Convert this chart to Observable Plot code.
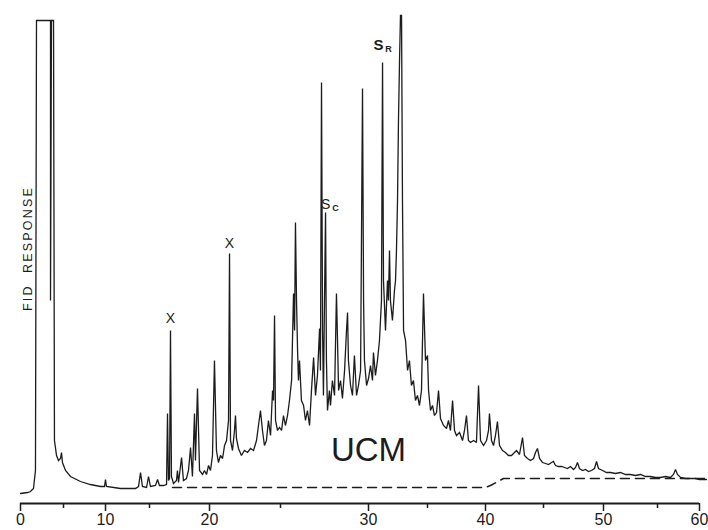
<!DOCTYPE html>
<html>
<head>
<meta charset="utf-8">
<script src="https://cdn.jsdelivr.net/npm/d3@7"></script>
<script src="https://cdn.jsdelivr.net/npm/@observablehq/plot@0.6"></script>
<style>
  html, body { margin: 0; padding: 0; background: #fff; }
  #chart { width: 708px; height: 530px; }
</style>
</head>
<body>
<div id="chart"></div>
<script>
// Retention time (min) of the recorded trace vertices
const traceTime = [
  0, 0.81, 1.16, 1.51, 1.74, 1.86, 3.49, 3.49, 3.60, 3.84, 3.95, 4.19, 4.42, 4.65, 4.77, 4.88,
  5.24, 5.83, 7.02, 8.21, 9.40, 9.88, 10.0, 10.11, 11.70, 13.41, 13.75, 13.98, 14.20, 14.66, 14.89, 15.08,
  15.5, 15.67, 15.83, 16.17, 16.42, 16.5, 16.58, 16.67, 16.75, 16.83, 17.0, 17.25, 17.33, 17.42, 17.67, 17.83,
  18.08, 18.25, 18.42, 18.58, 18.75, 18.83, 19.0, 19.17, 19.42, 19.58, 19.75, 19.92, 20.07, 20.21, 20.35, 20.49,
  20.63, 20.77, 20.92, 21.06, 21.20, 21.34, 21.41, 21.48, 21.62, 21.76, 21.83, 21.90, 22.04, 22.25, 22.46, 22.68,
  22.89, 23.10, 23.31, 23.45, 23.59, 23.73, 23.87, 24.01, 24.15, 24.30, 24.44, 24.51, 24.58, 24.65, 24.79, 24.93,
  25.06, 25.17, 25.28, 25.40, 25.51, 25.63, 25.74, 25.80, 25.85, 25.91, 25.97, 26.02, 26.08, 26.19, 26.31, 26.42,
  26.53, 26.65, 26.76, 26.88, 26.99, 27.10, 27.22, 27.27, 27.33, 27.39, 27.44, 27.50, 27.56, 27.61, 27.67, 27.78,
  27.84, 27.95, 28.07, 28.18, 28.24, 28.30, 28.41, 28.52, 28.64, 28.75, 28.81, 28.86, 28.98, 29.09, 29.20, 29.32,
  29.43, 29.55, 29.66, 29.72, 29.77, 29.89, 30.0, 30.17, 30.34, 30.42, 30.59, 30.76, 30.93, 31.10, 31.19, 31.27,
  31.44, 31.61, 31.69, 31.78, 31.86, 32.03, 32.20, 32.29, 32.37, 32.46, 32.54, 32.63, 32.71, 32.80, 32.88, 32.97,
  33.14, 33.31, 33.47, 33.64, 33.81, 33.98, 34.15, 34.32, 34.49, 34.66, 34.83, 35.0, 35.09, 35.26, 35.43, 35.60,
  35.78, 35.95, 36.12, 36.38, 36.64, 36.81, 36.98, 37.16, 37.33, 37.50, 37.76, 38.02, 38.19, 38.36, 38.53, 38.71,
  38.97, 39.22, 39.40, 39.57, 39.83, 40.09, 40.26, 40.34, 40.52, 40.69, 40.86, 41.03, 41.21, 41.47, 41.72, 41.98,
  42.24, 42.50, 42.67, 42.93, 43.19, 43.36, 43.62, 43.88, 44.14, 44.31, 44.48, 44.66, 44.91, 45.17, 45.42, 45.67,
  45.83, 46.0, 46.25, 46.5, 46.75, 47.0, 47.25, 47.5, 47.67, 47.83, 48.0, 48.25, 48.5, 48.75, 49.0, 49.25,
  49.42, 49.58, 49.92, 50.28, 50.65, 51.11, 51.57, 52.04, 52.5, 52.96, 53.43, 53.89, 54.35, 54.81, 55.36, 55.95,
  56.55, 56.90, 57.14, 57.38, 57.74, 58.33, 58.93, 59.52, 60.0, 60.83
];
// FID response (arbitrary units) at each vertex
const traceResponse = [
  10, 11, 12, 15, 33, 483, 483, 203, 483, 483, 63, 48, 43, 45, 51, 41,
  33, 27, 22, 19, 17, 17, 24, 17, 15, 15, 17, 31, 17, 16, 27, 17,
  18, 24, 18, 18, 19, 90, 23, 25, 173, 27, 20, 23, 33, 21, 46, 23,
  25, 33, 56, 27, 90, 43, 115, 33, 29, 33, 29, 38, 33, 48, 143, 53,
  41, 48, 45, 58, 63, 83, 250, 63, 53, 73, 88, 65, 55, 48, 53, 51,
  55, 53, 63, 78, 93, 73, 58, 63, 83, 68, 113, 103, 188, 83, 73, 76,
  73, 88, 78, 88, 103, 123, 210, 173, 281, 203, 153, 123, 143, 103, 98, 83,
  93, 78, 113, 146, 108, 128, 175, 133, 421, 173, 108, 203, 291, 143, 93, 113,
  98, 123, 108, 210, 163, 113, 123, 105, 133, 173, 191, 143, 118, 108, 148, 108,
  118, 133, 415, 203, 143, 118, 125, 138, 123, 151, 128, 143, 163, 203, 441, 223,
  173, 223, 203, 253, 203, 183, 213, 223, 253, 303, 383, 443, 488, 488, 303, 173,
  163, 133, 143, 118, 123, 103, 108, 98, 113, 210, 143, 148, 113, 93, 98, 88,
  91, 113, 85, 78, 75, 83, 73, 103, 73, 68, 71, 63, 73, 88, 63, 61,
  63, 61, 118, 63, 58, 63, 73, 90, 63, 58, 68, 82, 58, 53, 51, 48,
  48, 51, 53, 49, 66, 48, 45, 43, 45, 51, 55, 45, 41, 40, 39, 41,
  42, 38, 37, 37, 36, 35, 37, 34, 36, 41, 35, 33, 34, 32, 33, 35,
  42, 35, 33, 31, 31, 30, 31, 29, 29, 28, 29, 27, 27, 26, 26, 27,
  26, 29, 34, 29, 26, 25, 25, 25, 24, 24
];
// Dashed baseline drawn under the unresolved complex mixture
const baseTime = [16.92, 40.0, 40.43, 41.55, 60.83];
const baseResponse = [16, 16, 18, 25, 25];

// Axis ticks
const majorTicks = [0, 10, 20, 30, 40, 50, 60];
const minorTicks = [5, 15, 25, 35, 45, 55];
const axisBreaks = [0, 5, 10, 15, 20, 25, 30, 35, 40, 45, 50, 55, 60];

// Peak annotations
const peakLabels = ["X", "X", "S", "S"];
const peakLabelTime = [16.75, 21.41, 27.56, 30.85];
const peakLabelResponse = [185, 260, 299, 458];
const subLabels = ["C", "R"];
const subLabelTime = [27.56, 30.85];
const subLabelResponse = [299, 458];
const humpLabel = ["UCM"];
const humpTime = [30];
const humpResponse = [53];

const yTitle = "FID  RESPONSE";

const trace = traceTime.map((t, i) => ({t, v: traceResponse[i]}));
const base = baseTime.map((t, i) => ({t, v: baseResponse[i]}));
const peaks = peakLabels.map((s, i) => ({s, t: peakLabelTime[i], v: peakLabelResponse[i]}));
const subs = subLabels.map((s, i) => ({s, t: subLabelTime[i], v: subLabelResponse[i]}));
const hump = humpLabel.map((s, i) => ({s, t: humpTime[i], v: humpResponse[i]}));

const font = "'Liberation Sans', Arial, Helvetica, sans-serif";
const ink = "#1c1c1c";

const chart = Plot.plot({
  width: 708,
  height: 530,
  marginLeft: 20,
  marginRight: 9,
  marginTop: 15,
  marginBottom: 27,
  style: {fontFamily: font, background: "#fff", color: ink},
  x: {type: "linear", domain: axisBreaks,
      range: [20, 63, 105, 149, 209, 280, 368, 427, 485, 543, 603, 657, 699]},
  y: {domain: [0, 488], axis: null},
  marks: [
    Plot.ruleY([0], {stroke: ink, strokeWidth: 1.8}),
    Plot.axisX({ticks: majorTicks, tickSize: 8, tickPadding: 2, fontSize: 16, stroke: ink, strokeWidth: 1.5, fill: ink, label: null}),
    Plot.axisX({ticks: minorTicks, tickSize: 5, tickFormat: () => "", stroke: ink, strokeWidth: 1.5, label: null}),
    Plot.line(base, {x: "t", y: "v", stroke: ink, strokeWidth: 1.5, strokeDasharray: "9,6"}),
    Plot.line(trace, {x: "t", y: "v", stroke: ink, strokeWidth: 1.3, strokeLinejoin: "miter", strokeMiterlimit: 2}),
    Plot.text(peaks.filter(d => d.s === "X"), {x: "t", y: "v", text: "s", fontSize: 14, fill: ink}),
    Plot.text(peaks.filter(d => d.s === "S").slice(0, 1), {x: "t", y: "v", text: "s", fontSize: 14, fill: ink}),
    Plot.text(peaks.filter(d => d.s === "S").slice(1), {x: "t", y: "v", text: "s", fontSize: 15, fontWeight: "bold", fill: ink}),
    Plot.text(subs, {x: "t", y: "v", text: "s", fontSize: 9, fill: ink, dx: 10, dy: 4, fontWeight: "bold"}),
    Plot.text(hump, {x: "t", y: "v", text: "s", fontSize: 33, fill: ink}),
    Plot.text([yTitle], {frameAnchor: "left", textAnchor: "middle", rotate: -90, dx: 7, dy: -11, fontSize: 12.5, fill: ink})
  ]
});
d3.select(chart).selectAll("text")
  .filter(function() { return this.textContent === yTitle; })
  .style("letter-spacing", "2.2px");
document.getElementById("chart").appendChild(chart);
</script>
</body>
</html>
